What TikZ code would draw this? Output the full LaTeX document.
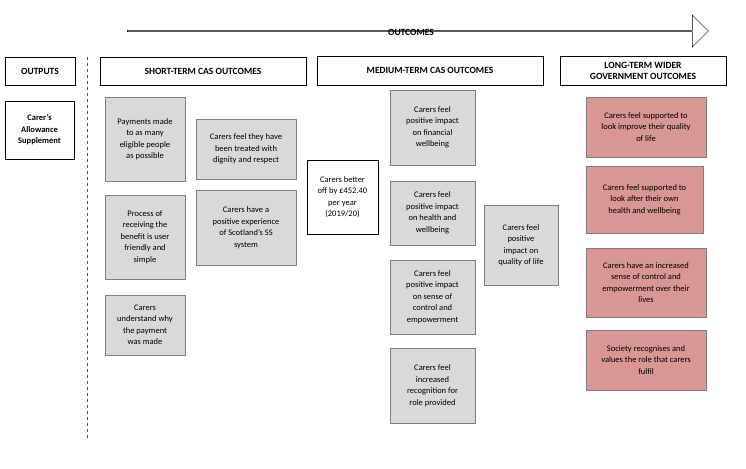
\documentclass[tikz,border=0pt]{standalone}
\usepackage{fontspec}
\setmainfont{Carlito}
\usetikzlibrary{shapes.arrows}
\definecolor{boxgray}{HTML}{D9D9D9}
\definecolor{boxred}{HTML}{D99694}
\definecolor{linegray}{HTML}{7F7F7F}
\begin{document}
\begin{tikzpicture}[x=1pt,y=-1pt,font=\fontsize{8.5}{11.5}\selectfont]

  \tikzset{
    header/.style={draw=black,thick,font=\fontsize{9.5}{11}\selectfont\bfseries,
      align=center,inner sep=0pt},
    whitebox/.style={draw=black,fill=white,align=center,inner sep=1pt},
    graybox/.style={draw=linegray,fill=boxgray,align=center,inner sep=1pt},
    redbox/.style={draw=linegray,fill=boxred,align=center,inner sep=1pt}
  }

  \useasboundingbox (0,0) rectangle (746,468);

  % outcomes arrow
  \node[draw=black,single arrow,single arrow head extend=5pt,
    minimum height=581pt,minimum width=32pt,inner sep=0pt,
    shape border uses incircle=false] (arrow) at (417.5,31) {};
  \node[font=\fontsize{9.5}{11}\selectfont\bfseries] (outcomes) at (411,32) {OUTCOMES};

  % headers
  \node[header,minimum width=70pt,minimum height=28pt] (outputs) at (40,71) {OUTPUTS};
  \node[header,minimum width=206pt,minimum height=28pt] (short) at (203,71) {SHORT-TERM CAS OUTCOMES};
  \node[header,minimum width=226pt,minimum height=29pt] (medium) at (430,70.5) {MEDIUM-TERM CAS OUTCOMES};
  \node[header,minimum width=166pt,minimum height=29pt] (long) at (643,70.5) {LONG-TERM WIDER\\GOVERNMENT OUTCOMES};

  \draw[dashed,linegray!60!black] (87,57) -- (87,438);

  % outputs
  \node[whitebox,minimum width=69pt,minimum height=58pt,font=\fontsize{8.5}{11.5}\selectfont\bfseries]
    (allowance) at (39.5,130) {Carer’s\\Allowance\\Supplement};

  % short-term
  \node[graybox,minimum width=80pt,minimum height=84pt] (payments) at (145,139) {Payments made\\to as many\\eligible people\\as possible};
  \node[graybox,minimum width=80pt,minimum height=84pt] (process) at (145,237) {Process of\\receiving the\\benefit is user\\friendly and\\simple};
  \node[graybox,minimum width=80pt,minimum height=60pt] (understand) at (145,325) {Carers\\understand why\\the payment\\was made};
  \node[graybox,minimum width=100pt,minimum height=60pt] (dignity) at (246,149) {Carers feel they have\\been treated with\\dignity and respect};
  \node[graybox,minimum width=100pt,minimum height=75pt] (experience) at (246,227.5) {Carers have a\\positive experience\\of Scotland’s SS\\system};

  % medium-term
  \node[whitebox,minimum width=71pt,minimum height=74pt] (betteroff) at (342.5,197) {Carers better\\off by £452.40\\per year\\(2019/20)};
  \node[graybox,minimum width=85pt,minimum height=75pt] (financial) at (432.5,127.5) {Carers feel\\positive impact\\on financial\\wellbeing};
  \node[graybox,minimum width=85pt,minimum height=64pt] (health) at (432.5,213) {Carers feel\\positive impact\\on health and\\wellbeing};
  \node[graybox,minimum width=85pt,minimum height=74pt] (control) at (432.5,297) {Carers feel\\positive impact\\on sense of\\control and\\empowerment};
  \node[graybox,minimum width=85pt,minimum height=75pt] (recognition) at (432.5,385.5) {Carers feel\\increased\\recognition for\\role provided};
  \node[graybox,minimum width=74pt,minimum height=80pt] (quality) at (521,245) {Carers feel\\positive\\impact on\\quality of life};

  % long-term
  \node[redbox,minimum width=120pt,minimum height=60pt] (improve) at (646,127) {Carers feel supported to\\look improve their quality\\of life};
  \node[redbox,minimum width=117pt,minimum height=67pt] (lookafter) at (644.5,199.5) {Carers feel supported to\\look after their own\\health and wellbeing};
  \node[redbox,minimum width=120pt,minimum height=69pt] (sense) at (646,282.5) {Carers have an increased\\sense of control and\\empowerment over their\\lives};
  \node[redbox,minimum width=120pt,minimum height=60pt] (society) at (646,360) {Society recognises and\\values the role that carers\\fulfil};
\end{tikzpicture}
\end{document}
